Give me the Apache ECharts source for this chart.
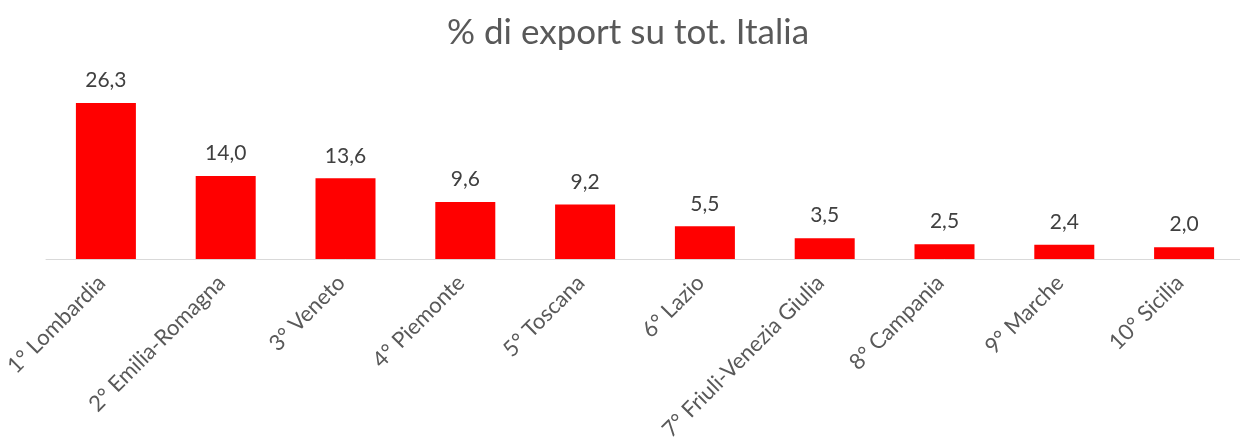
<!DOCTYPE html>
<html><head><meta charset="utf-8">
<script src="https://cdn.jsdelivr.net/npm/echarts@6/dist/echarts.min.js"></script>
<style>html,body{margin:0;padding:0;background:#fff;overflow:hidden}#c{width:1244px;height:443px}</style>
</head><body><div id="c"></div>
<script>
const categories = ["1° Lombardia","2° Emilia-Romagna","3° Veneto","4° Piemonte","5° Toscana","6° Lazio","7° Friuli-Venezia Giulia","8° Campania","9° Marche","10° Sicilia"];
const values = [26.3, 14.0, 13.6, 9.6, 9.2, 5.5, 3.5, 2.5, 2.4, 2.0];
const chart = echarts.init(document.getElementById('c'));
chart.setOption({
  animation: false,
  title: {text: "% di export su tot. Italia", left: 442, top: 10,
    textStyle: {fontFamily: 'Lato', fontSize: 35, fontWeight: 'normal', color: '#595959'}},
  grid: {left: 46, right: 0, top: 81, height: 178, outerBoundsMode: 'none', containLabel: false},
  xAxis: {type: 'category', data: categories,
    axisLine: {lineStyle: {color: '#d9d9d9', width: 1}},
    axisTick: {show: false},
    axisLabel: {rotate: 45, interval: 0, margin: 16, padding: [0, 6, 0, 0], fontFamily: 'Lato', fontSize: 22, color: '#595959'}},
  yAxis: {type: 'value', min: 0, max: 30, show: false, splitLine: {show: false}},
  series: [{type: 'bar', data: values, barWidth: 60,
    itemStyle: {color: '#ff0000'},
    label: {show: true, position: 'top', distance: 12, fontFamily: 'Lato', fontSize: 21, color: '#404040',
      formatter: p => p.value.toFixed(1).replace('.', ',')}}]
});
</script></body></html>
